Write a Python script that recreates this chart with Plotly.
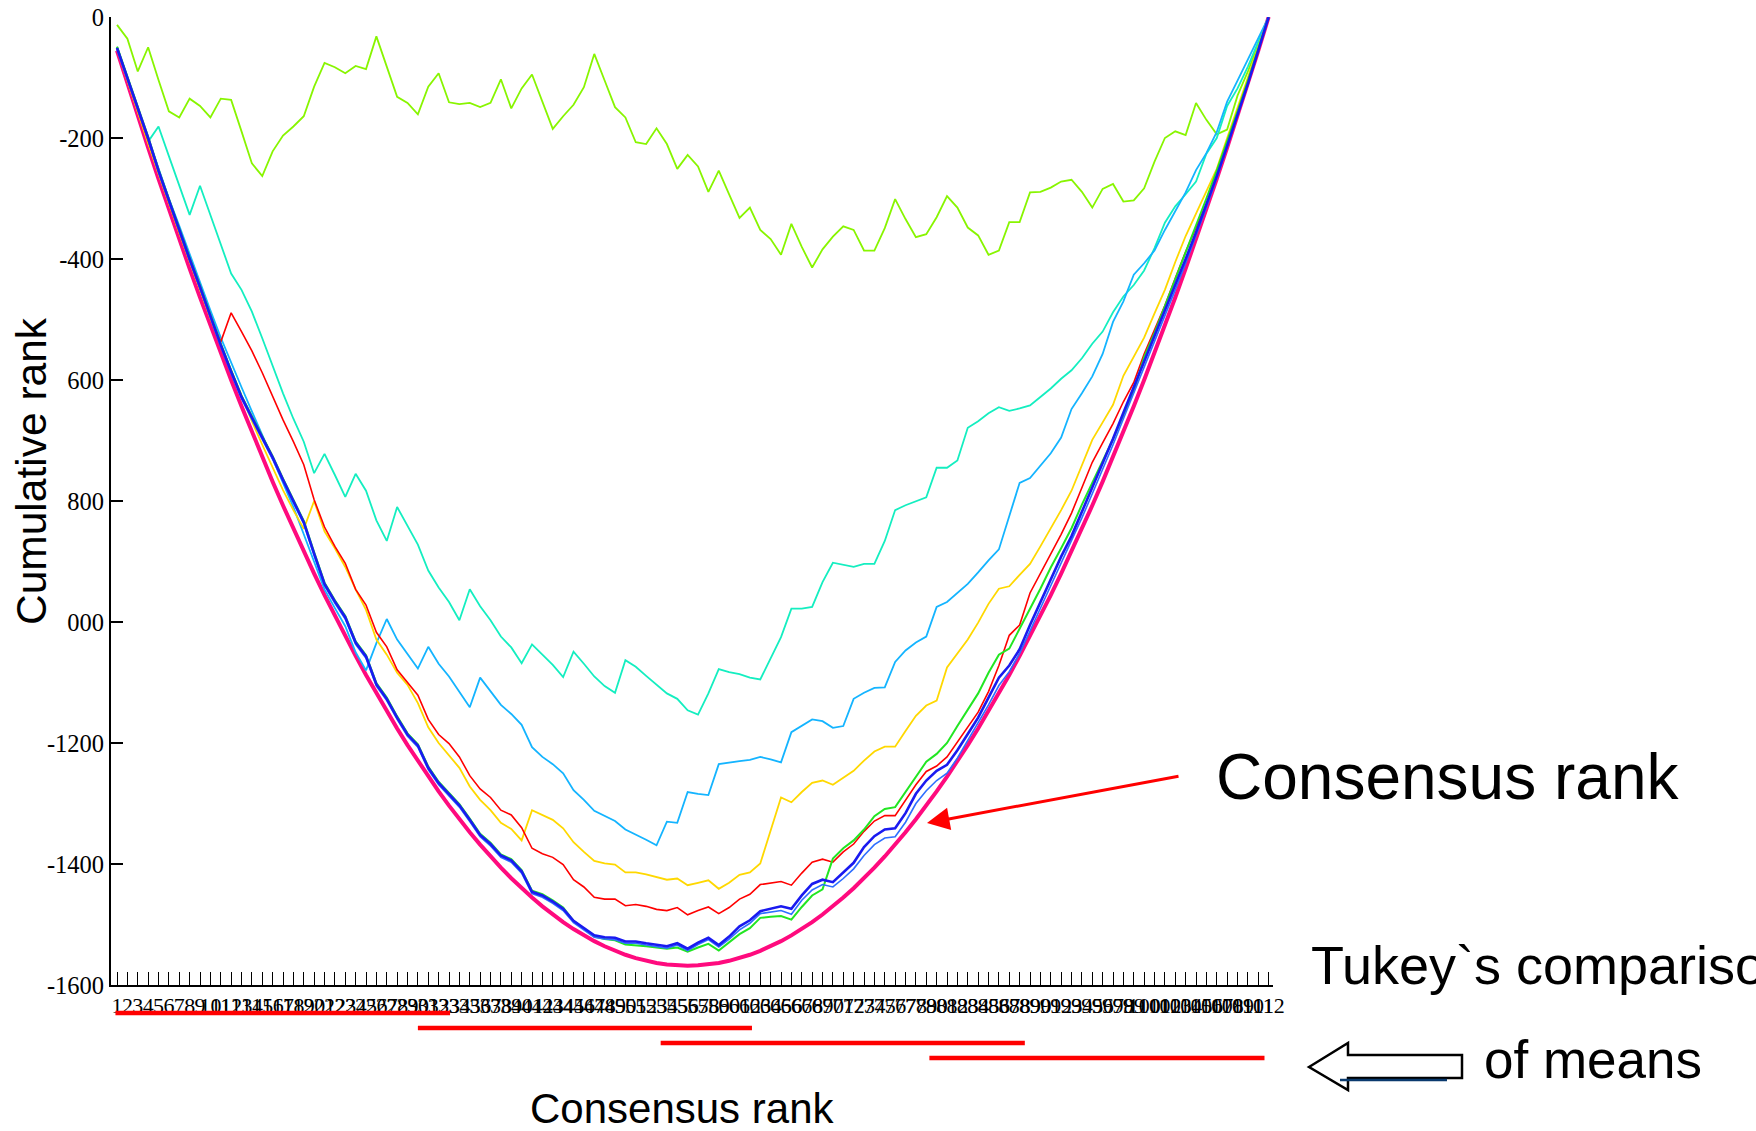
import plotly.graph_objects as go

# ---------------- data ----------------
ranks = list(range(1, 113))
x_tick_labels = [str(r) for r in ranks]

y_tick_values = [0, -200, -400, -600, -800, -1000, -1200, -1400, -1600]
y_tick_labels = ["0", "-200", "-400", "600", "800", "000", "-1200", "-1400", "-1600"]

consensus = [-55.5,-110,-163.5,-216,-267.5,-318,-367.5,-416,-463.5,-510,-555.5,-600,-643.5,-686,-727.5,-768,
             -807.5,-846,-883.5,-920,-955.5,-990,-1023.5,-1056,-1087.5,-1118,-1147.5,-1176,-1203.5,-1230,-1255.5,
             -1280,-1303.5,-1326,-1347.5,-1368,-1387.5,-1406,-1423.5,-1440,-1455.5,-1470,-1483.5,-1496,-1507.5,
             -1518,-1527.5,-1536,-1543.5,-1550,-1555.5,-1560,-1563.5,-1566,-1567.5,-1568,
             -1567.5,-1566,-1563.5,-1560,-1555.5,-1550,-1543.5,-1536,-1527.5,-1518,-1507.5,-1496,-1483.5,-1470,
             -1455.5,-1440,-1423.5,-1406,-1387.5,-1368,-1347.5,-1326,-1303.5,-1280,-1255.5,-1230,-1203.5,-1176,
             -1147.5,-1118,-1087.5,-1056,-1023.5,-990,-955.5,-920,-883.5,-846,-807.5,-768,-727.5,-686,-643.5,-600,
             -555.5,-510,-463.5,-416,-367.5,-318,-267.5,-216,-163.5,-110,-55.5,0]

series_blue = [-51,-100,-148,-200,-254,-303,-352,-400,-446,-495,-542,-586,-628,-662,-695,-728,-765,-800,-835,-887,
               -937,-966,-992,-1034,-1057,-1103,-1127,-1158,-1186,-1204,-1241,-1266,-1284,-1303,-1327,-1352,-1367,
               -1386,-1394,-1412,-1446,-1452,-1462,-1474,-1494,-1506,-1518,-1521,-1522,-1528,-1528,-1531,-1533,
               -1536,-1531,-1540,-1530,-1522,-1534,-1520,-1503,-1493,-1478,-1474,-1470,-1474,-1452,-1433,-1426,
               -1430,-1414,-1398,-1372,-1354,-1343,-1341,-1316,-1284,-1262,-1246,-1236,-1212,-1185,-1158,-1125,
               -1092,-1072,-1045,-1005,-968,-930,-892,-858,-818,-778,-738,-697,-654,-612,-570,-529,-486,-443,-400,
               -356,-311,-263,-213,-162,-110,-55,0]

series_blue2 = [-54,-103,-151,-203,-257,-306,-355,-403,-449,-498,-545,-589,-631,-665,-698,-731,-768,-803,-838,-890,
                -940,-969,-995,-1037,-1060,-1106,-1130,-1161,-1189,-1207,-1244,-1269,-1287,-1306,-1330,-1355,-1370,
                -1389,-1397,-1415,-1449,-1455,-1465,-1477,-1497,-1509,-1521,-1524,-1525,-1531,-1531,-1534,-1536,
                -1539,-1534,-1543,-1533,-1525,-1537,-1524,-1509,-1498,-1482,-1479,-1477,-1483,-1460,-1443,-1434,
                -1438,-1424,-1408,-1386,-1368,-1357,-1355,-1331,-1300,-1279,-1262,-1250,-1225,-1196,-1168,-1137,
                -1105,-1082,-1052,-1015,-978,-940,-902,-866,-828,-788,-748,-707,-664,-622,-580,-538,-495,-451,-407,
                -362,-315,-266,-215,-163,-110,-55,0]

series_green = [-49,-98,-146,-198,-252,-301,-350,-398,-444,-493,-540,-584,-626,-660,-693,-726,-763,-798,-833,-885,
                -935,-964,-990,-1032,-1055,-1101,-1125,-1156,-1184,-1202,-1239,-1264,-1282,-1301,-1325,-1350,-1365,
                -1384,-1392,-1410,-1444,-1450,-1460,-1472,-1494,-1507,-1520,-1524,-1526,-1533,-1534,-1536,-1538,
                -1540,-1538,-1545,-1538,-1532,-1543,-1530,-1516,-1506,-1489,-1487,-1486,-1492,-1471,-1452,-1442,
                -1391,-1374,-1361,-1343,-1321,-1309,-1306,-1281,-1257,-1231,-1218,-1200,-1172,-1146,-1118,-1084,
                -1054,-1044,-1012,-978,-945,-910,-878,-845,-806,-770,-735,-698,-658,-618,-562,-522,-478,-434,-390,
                -345,-300,-254,-206,-156,-105,-52,0]

series_red = [-52,-103,-154,-205,-257,-306,-355,-403,-450,-496,-537,-489,-520,-552,-588,-628,-666,-702,-740,-798,
              -843,-875,-903,-946,-972,-1017,-1041,-1079,-1100,-1121,-1161,-1186,-1201,-1223,-1254,-1276,-1290,
              -1311,-1319,-1340,-1374,-1383,-1389,-1401,-1426,-1438,-1455,-1458,-1458,-1469,-1467,-1470,-1475,
              -1477,-1472,-1484,-1477,-1471,-1482,-1472,-1458,-1450,-1434,-1432,-1429,-1435,-1415,-1397,-1392,
              -1397,-1380,-1367,-1346,-1329,-1320,-1320,-1294,-1269,-1247,-1238,-1223,-1198,-1174,-1149,-1115,
              -1072,-1022,-1005,-952,-920,-889,-855,-820,-778,-736,-704,-672,-636,-604,-557,-517,-477,-432,-388,
              -348,-309,-262,-214,-162,-110,-55,0]

series_yellow = [-53,-106,-157,-209,-259,-309,-357,-404,-452,-498,-542,-585,-627,-668,-707,-745,-782,-815,-846,-800,
                 -850,-878,-909,-946,-980,-1029,-1054,-1084,-1104,-1134,-1174,-1200,-1220,-1241,-1272,-1294,-1311,
                 -1332,-1342,-1361,-1311,-1319,-1327,-1341,-1364,-1380,-1395,-1399,-1401,-1414,-1414,-1417,-1422,
                 -1426,-1424,-1435,-1431,-1427,-1441,-1431,-1418,-1414,-1399,-1346,-1290,-1298,-1281,-1266,-1262,
                 -1269,-1257,-1246,-1229,-1214,-1206,-1206,-1180,-1155,-1138,-1130,-1075,-1052,-1029,-1001,-970,
                 -945,-941,-922,-904,-875,-846,-815,-783,-740,-699,-670,-641,-593,-562,-530,-490,-451,-405,-362,
                 -325,-288,-251,-200,-150,-100,-50,0]

series_skyblue = [-50,-100,-148,-200,-250,-300,-345,-392,-440,-485,-530,-572,-612,-652,-690,-730,-770,-810,-855,
                  -900,-946,-977,-1007,-1050,-1080,-1035,-995,-1029,-1053,-1077,-1041,-1069,-1090,-1115,-1141,-1092,
                  -1114,-1137,-1152,-1170,-1207,-1223,-1235,-1250,-1278,-1294,-1312,-1321,-1329,-1343,-1351,-1360,
                  -1369,-1330,-1332,-1281,-1284,-1286,-1235,-1232,-1230,-1228,-1223,-1227,-1232,-1182,-1172,-1161,
                  -1164,-1175,-1172,-1127,-1117,-1109,-1108,-1066,-1047,-1034,-1024,-975,-967,-952,-937,-918,-898,
                  -880,-826,-770,-762,-741,-721,-695,-648,-622,-594,-557,-504,-470,-426,-407,-386,-352,-322,-290,
                  -253,-225,-190,-140,-105,-70,-35,0]

series_turquoise = [-50,-100,-150,-206,-181,-230,-280,-327,-279,-327,-375,-424,-451,-487,-531,-578,-622,-664,-702,
                    -754,-722,-757,-793,-755,-783,-832,-866,-810,-841,-872,-915,-943,-967,-997,-946,-974,-997,-1024,
                    -1042,-1068,-1037,-1054,-1071,-1091,-1049,-1069,-1090,-1106,-1117,-1063,-1074,-1089,-1104,-1118,
                    -1127,-1146,-1153,-1118,-1078,-1083,-1086,-1092,-1095,-1060,-1025,-978,-978,-975,-934,-902,-905,
                    -909,-904,-904,-866,-815,-807,-801,-794,-745,-745,-733,-679,-668,-655,-645,-651,-647,-642,-628,
                    -614,-598,-584,-564,-540,-520,-488,-462,-443,-419,-382,-340,-313,-293,-272,-226,-200,-147,-118,
                    -82,-40,0]

series_lawngreen = [-13,-36,-90,-50,-104,-156,-166,-135,-147,-166,-135,-137,-189,-242,-263,-222,-196,-181,-164,-115,
                    -76,-83,-93,-81,-86,-32,-82,-132,-142,-161,-115,-93,-141,-144,-142,-149,-142,-103,-151,-118,-95,
                    -140,-185,-164,-145,-116,-61,-105,-149,-166,-207,-210,-184,-210,-251,-228,-247,-289,-254,-293,
                    -332,-315,-352,-367,-393,-342,-380,-414,-384,-363,-346,-352,-386,-386,-349,-301,-334,-364,-359,
                    -331,-296,-315,-348,-361,-393,-386,-339,-339,-290,-289,-282,-272,-269,-289,-315,-284,-276,-305,
                    -303,-283,-239,-200,-189,-195,-142,-170,-194,-186,-130,-90,-45,0]

# Tukey groups (range of consensus ranks covered by each bar)
tukey_start = [0.85, 30.0, 53.4, 79.3]
tukey_end = [33.1, 62.2, 88.5, 111.6]

for s in [consensus, series_blue, series_blue2, series_green, series_red, series_yellow,
          series_skyblue, series_turquoise, series_lawngreen]:
    assert len(s) == 112, len(s)

# ---------------- layout geometry ----------------
W, H = 1756, 1131
PL, PR, PT, PB = 111, 1273, 17, 985


def px(x):
    return (x - PL) / (PR - PL)


def py(y):
    return (PB - y) / (PB - PT)


fig = go.Figure()

traces = [
    (consensus, "#FF0A7E", 4.0),
    (series_lawngreen, "#88F500", 1.8),
    (series_turquoise, "#14EEC0", 1.8),
    (series_skyblue, "#14B4FF", 1.8),
    (series_yellow, "#FFD800", 1.8),
    (series_red, "#FF0000", 1.6),
    (series_green, "#22E622", 2.0),
    (series_blue2, "#2E6EFF", 1.6),
    (series_blue, "#1A1AF0", 2.6),
]
for vals, col, w in traces:
    fig.add_trace(go.Scatter(x=ranks, y=vals, mode="lines",
                             line=dict(color=col, width=w), showlegend=False,
                             hoverinfo="skip"))

shapes = []
bar_y = [1013, 1028, 1043, 1058]
for s, e, yy in zip(tukey_start, tukey_end, bar_y):
    shapes.append(dict(type="line", xref="x", yref="paper", x0=s, x1=e,
                       y0=py(yy), y1=py(yy), line=dict(color="#FF0000", width=4.5)))

# hollow arrow pointing left
pts = [(1309, 1067), (1348, 1043), (1348, 1055), (1462, 1055), (1462, 1078), (1348, 1078), (1348, 1090)]
path = "M " + " L ".join(f"{px(a):.5f},{py(b):.5f}" for a, b in pts) + " Z"
shapes.append(dict(type="path", xref="paper", yref="paper", path=path,
                   line=dict(color="black", width=2.5), fillcolor="white"))
shapes.append(dict(type="line", xref="paper", yref="paper", x0=px(1340), x1=px(1447),
                   y0=py(1080), y1=py(1080), line=dict(color="#0A3A6E", width=2.5)))

sans = "Liberation Sans, Arial, sans-serif"
serif = "Liberation Serif, Times New Roman, serif"

annotations = [
    dict(text="Cumulative rank", x=px(31), y=py(471), xref="paper", yref="paper",
         showarrow=False, textangle=-90, font=dict(family=sans, size=42.5, color="black"),
         xanchor="center", yanchor="middle"),
    dict(text="Consensus rank", x=px(682), y=py(1108), xref="paper", yref="paper",
         showarrow=False, font=dict(family=sans, size=42, color="black"),
         xanchor="center", yanchor="middle"),
    dict(text="Consensus rank", x=px(1214), y=py(777), xref="paper", yref="paper",
         showarrow=False, font=dict(family=sans, size=64, color="black"),
         xanchor="left", yanchor="middle"),
    dict(text="Tukey`s comparison", x=px(1309), y=py(965), xref="paper", yref="paper",
         showarrow=False, font=dict(family=sans, size=54, color="black"),
         xanchor="left", yanchor="middle"),
    dict(text="of means", x=px(1482), y=py(1059), xref="paper", yref="paper",
         showarrow=False, font=dict(family=sans, size=53, color="black"),
         xanchor="left", yanchor="middle"),
    dict(text="", x=px(927), y=py(823), xref="paper", yref="paper",
         showarrow=True, ax=253, ay=-47, arrowcolor="#FF0000", arrowwidth=3,
         arrowhead=2, arrowsize=1.5, standoff=0),
]

fig.update_layout(
    width=W, height=H,
    margin=dict(l=PL, r=W - PR, t=PT, b=H - PB, pad=0, autoexpand=False),
    paper_bgcolor="white", plot_bgcolor="white",
    shapes=shapes, annotations=annotations,
    xaxis=dict(range=[0.42, 112.42], tickmode="array", tickvals=ranks, ticktext=x_tick_labels,
               tickangle=0, ticks="inside", ticklen=13, tickwidth=1.3, tickcolor="black",
               showline=True, linecolor="black", linewidth=2, showgrid=False, zeroline=False,
               automargin=False,
               tickfont=dict(family=serif, size=22, color="black")),
    yaxis=dict(range=[-1600, 0], tickmode="array", tickvals=y_tick_values, ticktext=y_tick_labels,
               ticks="inside", ticklen=12, tickwidth=1.5, tickcolor="black",
               showline=True, linecolor="black", linewidth=2, showgrid=False, zeroline=False,
               automargin=False,
               tickfont=dict(family=serif, size=24.5, color="black")),
)

fig.write_html("out.html")
